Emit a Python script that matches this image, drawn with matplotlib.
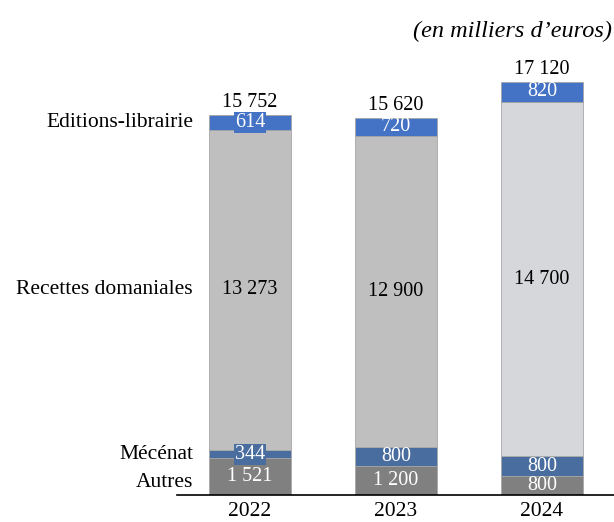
import numpy as np
import matplotlib
matplotlib.use("Agg")
import matplotlib.pyplot as plt

plt.rcParams['font.family'] = ['Liberation Serif', 'DejaVu Serif']

#===== data (en milliers d'euros) =====#
years = ["2022", "2023", "2024"]
categories = ["Autres", "Mécénat", "Recettes domaniales", "Editions-librairie"]
autres = [1521, 1200, 800]
mecenat = [344, 800, 800]
recettes = [13273, 12900, 14700]
editions = [614, 720, 820]

col_autres = "#808080"
col_mecenat = "#4A6DA0"
col_recettes = ["#BFBFBF", "#BFBFBF", "#D5D7DA"]
col_editions = "#4472C4"


def fmt(v):
    return "{:,}".format(v).replace(",", " ")


fig = plt.figure(figsize=(6.14, 5.22), dpi=100)
ax = fig.add_axes([177/614, 27/522, 1 - 177/614, 455/522])

x = np.arange(len(years))
w = 0.56
series = [autres, mecenat, recettes, editions]
colors = [col_autres, col_mecenat, col_recettes, col_editions]
txtcol = ["white", "white", "black", "white"]
bottom = np.zeros(len(years))

for s, c, tc in zip(series, colors, txtcol):
    bars = ax.bar(x, s, w, bottom=bottom, color=c, edgecolor="#A6A6A6", linewidth=0.6)
    for i, b in enumerate(bars):
        yc = bottom[i] + s[i] / 2
        fc = c[i] if isinstance(c, list) else c
        small = s[i] < 700
        ax.text(x[i], yc, fmt(s[i]), ha="center", va="center", color=tc, fontsize=14.5,
                bbox=dict(boxstyle="square,pad=0.05", fc=fc, ec="none") if small else None)
    bottom = bottom + np.array(s)

# totals
for i in range(len(years)):
    ax.annotate(fmt(int(bottom[i])), (x[i], bottom[i]), xytext=(0, 2), textcoords="offset points",
                ha="center", va="bottom", fontsize=14.5)

# category labels next to first bar
cum = np.cumsum([s[0] for s in series])
starts = cum - np.array([s[0] for s in series])
offs = [-250, 0, 0, 0]
for lab, st, s, o in zip(categories, starts, series, offs):
    ax.text(x[0] - w/2 - 0.11, st + s[0]/2 + o, lab, ha="right", va="center", fontsize=15.5)

ax.set_xlim(-0.5, 2.493)
ax.set_ylim(0, 455/0.02412)
ax.set_xticks(x)
ax.set_xticklabels(years, fontsize=15.5)
ax.tick_params(axis="x", length=0, pad=5)
ax.set_yticks([])
for sp in ["top", "right", "left"]:
    ax.spines[sp].set_visible(False)
ax.spines["bottom"].set_linewidth(1.2)

fig.text(0.997, 1 - 31/522, "(en milliers d\u2019euros)", ha="right", va="center",
         fontsize=17.5, style="italic")

fig.savefig("out.png", dpi=100)
